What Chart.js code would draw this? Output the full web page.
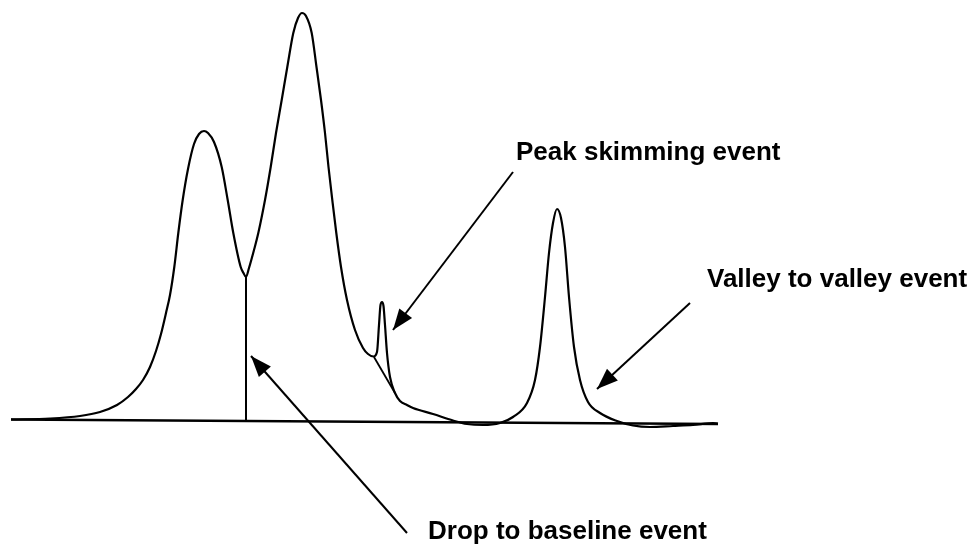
<!DOCTYPE html>
<html>
<head>
<meta charset="utf-8">
<script src="https://cdn.jsdelivr.net/npm/chart.js@4.4.1/dist/chart.umd.min.js"></script>
<style>
  html, body { margin: 0; padding: 0; background: #fff; }
  #wrap { width: 980px; height: 547px; position: relative; }
</style>
</head>
<body>
<div id="wrap"><canvas id="chromChart"></canvas></div>
<script>
// chromatogram trace: retention time vs detector signal
const traceTime = [11, 50, 80, 100, 117, 128, 136, 143, 150, 156, 161, 166, 170, 174.3, 178.3, 182.7, 188, 194, 199, 204,
  208, 214, 221.7, 227.7, 233.3, 240.7, 243.5, 246,
  249, 254, 258.3, 265, 270.7, 276, 281.7, 287.3, 293.3, 298, 302, 306, 311.7, 316.5, 321, 325, 328.5, 332.3, 336.3, 341, 347, 355, 363, 368, 373.5,
  377, 379, 380.5, 382, 383.5, 385, 387, 390, 395, 400, 407, 413, 433, 453, 467, 483, 500,
  513, 527, 535, 540, 545, 549, 553, 557, 561, 565, 569, 574, 580, 588, 600, 617, 633, 650, 673, 693, 713, 718];
const traceSignal = [3.5, 4.5, 7, 11, 18, 26, 34, 43, 56, 72, 89, 110, 128, 156, 190, 223, 254, 279, 289, 292,
  290, 281, 256, 223, 190, 156, 150, 146,
  155, 173, 190, 223, 256, 290, 323, 356, 390, 405, 410, 407, 390, 356, 323, 290, 256, 223, 190, 156, 123, 93, 75, 69, 66.5,
  71, 98, 118, 121, 117, 98, 70, 46, 30, 22, 18, 15, 9, 2.5, -1, -2, 0,
  6, 20, 43, 76, 126, 170, 200, 214, 205, 176, 126, 76, 43, 21, 10, 2, -2.5, -4, -3, -2, 0, -0.5];

// baseline, drop line and skim tangent
const baselineTime = [11, 718];
const baselineSignal = [3.5, -1];
const dropTime = [246, 246];
const dropSignal = [146, 2];
const skimTime = [374, 395];
const skimSignal = [66, 30];

// call-out labels and their arrows (tail -> head)
const eventLabels = ['Peak skimming event', 'Valley to valley event', 'Drop to baseline event'];
const labelTime = [516, 707, 428];
const labelSignal = [263, 136, -116];
const arrowTime = [[513, 393], [690, 597], [407, 251]];
const arrowSignal = [[251, 93], [120, 34], [-110, 67]];

const toPoints = (xs, ys) => xs.map((x, i) => ({ x: x, y: ys[i] }));

const lineSet = (xs, ys, width, extra) => Object.assign({
    data: toPoints(xs, ys),
    showLine: true,
    borderColor: '#000',
    borderWidth: width,
    pointRadius: 0,
    fill: false
}, extra || {});

// arrow heads at the end of every "arrow" dataset
const arrowHeads = {
    id: 'arrowHeads',
    afterDatasetsDraw(chart) {
        const c = chart.ctx;
        chart.data.datasets.forEach((ds, i) => {
            if (!ds.arrow) return;
            const pts = chart.getDatasetMeta(i).data;
            const a = pts[pts.length - 2];
            const b = pts[pts.length - 1];
            const ang = Math.atan2(b.y - a.y, b.x - a.x);
            const len = 21, half = 8;
            const bx = b.x - len * Math.cos(ang), by = b.y - len * Math.sin(ang);
            c.save();
            c.fillStyle = '#000';
            c.beginPath();
            c.moveTo(b.x, b.y);
            c.lineTo(bx + half * Math.sin(ang), by - half * Math.cos(ang));
            c.lineTo(bx - half * Math.sin(ang), by + half * Math.cos(ang));
            c.closePath();
            c.fill();
            c.restore();
        });
    }
};

// text labels placed in data units
const eventText = {
    id: 'eventText',
    afterDraw(chart) {
        const c = chart.ctx;
        const xs = chart.scales.x, ys = chart.scales.y;
        c.save();
        c.fillStyle = '#000';
        c.font = 'bold 26px "Liberation Sans", Arial, sans-serif';
        c.textAlign = 'left';
        c.textBaseline = 'alphabetic';
        eventLabels.forEach((t, i) => {
            c.fillText(t, xs.getPixelForValue(labelTime[i]), ys.getPixelForValue(labelSignal[i]));
        });
        c.restore();
    }
};

const datasets = [
    lineSet(traceTime, traceSignal, 2.2, { cubicInterpolationMode: 'monotone' }),
    lineSet(baselineTime, baselineSignal, 2.6),
    lineSet(dropTime, dropSignal, 2),
    lineSet(skimTime, skimSignal, 1.8)
];
arrowTime.forEach((xs, i) => datasets.push(lineSet(xs, arrowSignal[i], 2, { arrow: true })));

new Chart(document.getElementById('chromChart').getContext('2d'), {
    type: 'scatter',
    data: { datasets: datasets },
    options: {
        responsive: true,
        maintainAspectRatio: false,
        animation: false,
        layout: { padding: 0 },
        scales: {
            x: { type: 'linear', min: 0, max: 980, display: false },
            y: { type: 'linear', min: -124, max: 423, display: false }
        },
        plugins: {
            legend: { display: false },
            tooltip: { enabled: false }
        }
    },
    plugins: [arrowHeads, eventText]
});
</script>
</body>
</html>
